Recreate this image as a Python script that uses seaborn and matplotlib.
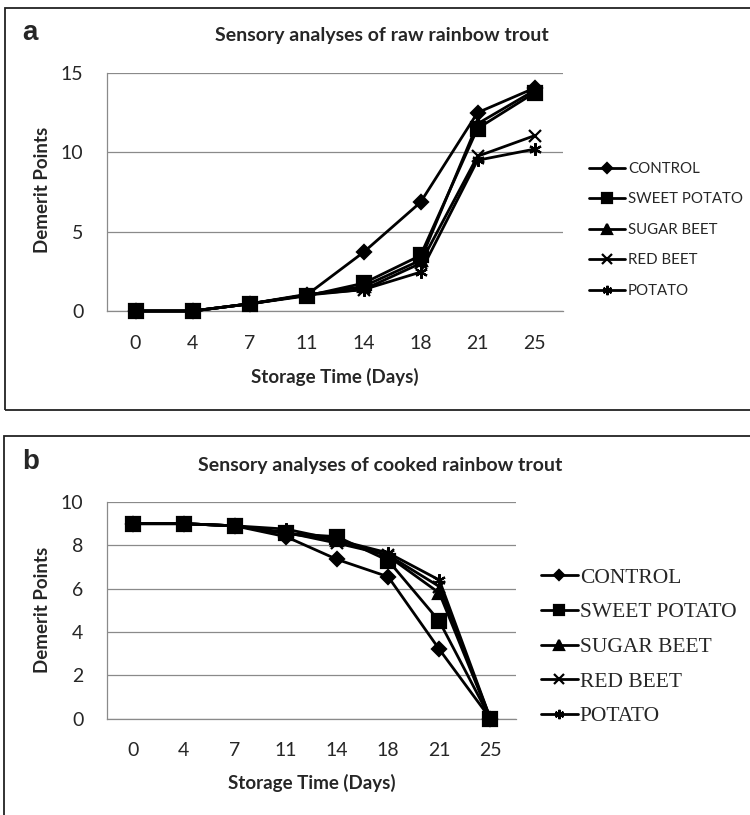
import numpy as np
import pandas as pd
import matplotlib
matplotlib.use("Agg")
import matplotlib.pyplot as plt
from matplotlib.patches import Rectangle
import seaborn as sns

# ---------------- data ----------------
days = ["0", "4", "7", "11", "14", "18", "21", "25"]
series_names = ["CONTROL", "SWEET POTATO", "SUGAR BEET", "RED BEET", "POTATO"]

raw_control = [0, 0, 0.45, 1.0, 3.7, 6.85, 12.5, 14.05]
raw_sweet_potato = [0, 0, 0.45, 0.95, 1.75, 3.5, 11.5, 13.75]
raw_sugar_beet = [0, 0, 0.45, 1.0, 1.55, 3.2, 11.8, 13.9]
raw_red_beet = [0, 0, 0.45, 1.0, 1.35, 3.0, 9.75, 11.05]
raw_potato = [0, 0, 0.45, 1.05, 1.35, 2.45, 9.5, 10.2]

cooked_control = [9.0, 9.0, 8.9, 8.4, 7.35, 6.55, 3.2, 0]
cooked_sweet_potato = [9.0, 9.0, 8.9, 8.55, 8.4, 7.3, 4.5, 0]
cooked_sugar_beet = [9.0, 9.0, 8.9, 8.55, 8.25, 7.5, 5.8, 0]
cooked_red_beet = [9.0, 9.0, 8.9, 8.6, 8.1, 7.55, 6.1, 0]
cooked_potato = [9.0, 9.0, 8.9, 8.75, 8.25, 7.65, 6.4, 0]

raw_values = [raw_control, raw_sweet_potato, raw_sugar_beet, raw_red_beet, raw_potato]
cooked_values = [cooked_control, cooked_sweet_potato, cooked_sugar_beet, cooked_red_beet, cooked_potato]

raw_yticks = [0, 5, 10, 15]
cooked_yticks = [0, 2, 4, 6, 8, 10]

# ---------------- style ----------------
sns.set_style("white")
plt.rcParams["font.family"] = ["Lato", "DejaVu Sans"]

W, H = 750, 815
fig = plt.figure(figsize=(W / 100, H / 100), dpi=100)

def fx(px):
    return px / W

def fy(py):
    return 1 - py / H

markers = ["D", "s", "^", "x", (6, 2, 0)]
msizes = [7, 9.5, 9, 9, 9]

def draw_panel(ax, values, yticks, ymax):
    pos = np.arange(len(days))
    for name, vals, mk, ms in zip(series_names, values, markers, msizes):
        df = pd.DataFrame({"x": pos, "y": vals})
        sns.lineplot(data=df, x="x", y="y", ax=ax, color="black", lw=2.0,
                     marker=mk, markersize=ms, markeredgewidth=1.6,
                     markeredgecolor="black", markerfacecolor="black",
                     label=name, sort=False, clip_on=False, zorder=3)
    ax.set_xlim(-0.5, len(days) - 0.5)
    ax.set_ylim(0, ymax)
    ax.set_xticks(pos)
    ax.set_xticklabels(days)
    ax.set_yticks(yticks)
    ax.tick_params(axis="both", length=0, labelsize=14, pad=17)
    ax.grid(axis="y", color="#8a8a8a", lw=0.9)
    ax.set_axisbelow(True)
    for s in ["top", "right"]:
        ax.spines[s].set_visible(False)
    for s in ["left", "bottom"]:
        ax.spines[s].set_color("#8a8a8a")
        ax.spines[s].set_linewidth(0.9)
        ax.spines[s].set_zorder(0.5)
    ax.set_xlabel("Storage Time (Days)", fontsize=13.5, fontweight="bold", va="center")
    ax.set_ylabel("Demerit Points", fontsize=13.5, fontweight="bold", va="center")
    return ax

# ---------- panel a ----------
ax_a = fig.add_axes([fx(107), fy(311), fx(563) - fx(107), fy(73) - fy(311)])
draw_panel(ax_a, raw_values, raw_yticks, 15)
ax_a.xaxis.set_label_coords(0.5, (311 - 377) / 238, transform=ax_a.transAxes)
ax_a.yaxis.set_label_coords((43 - 107) / 456, (311 - 190) / 238, transform=ax_a.transAxes)
leg_a = ax_a.legend(loc="center left", bbox_to_anchor=(fx(589), fy(230)),
                    bbox_transform=fig.transFigure, frameon=False,
                    prop={"family": ["Lato"], "size": 10.8},
                    handlelength=2.4, handletextpad=0.2, labelspacing=1.1,
                    borderpad=0, borderaxespad=0, markerscale=0.75)

# ---------- panel b ----------
ax_b = fig.add_axes([fx(107), fy(718.7), fx(516) - fx(107), fy(502) - fy(718.7)])
draw_panel(ax_b, cooked_values, cooked_yticks, 10)
ax_b.xaxis.set_label_coords(0.5, (718.7 - 783) / 216.7, transform=ax_b.transAxes)
ax_b.yaxis.set_label_coords((43 - 107) / 409, 0.5, transform=ax_b.transAxes)
leg_b = ax_b.legend(loc="center left", bbox_to_anchor=(fx(541), fy(647)),
                    bbox_transform=fig.transFigure, frameon=False,
                    prop={"family": ["Liberation Serif"], "size": 15.5},
                    handlelength=1.7, handletextpad=0.1, labelspacing=0.68,
                    borderpad=0, borderaxespad=0, markerscale=0.75)

# ---------- titles, panel letters, boxes ----------
fig.text(fx(382), fy(36), "Sensory analyses of raw rainbow trout", ha="center", va="center",
         fontsize=14, fontweight="bold")
fig.text(fx(380), fy(465), "Sensory analyses of cooked rainbow trout", ha="center", va="center",
         fontsize=14, fontweight="bold")
fig.text(fx(22), fy(33), "a", ha="left", va="center", fontsize=20, fontweight="bold",
         family=["Liberation Sans"])
fig.text(fx(22), fy(462), "b", ha="left", va="center", fontsize=20, fontweight="bold",
         family=["Liberation Sans"])

fig.patches.append(Rectangle((fx(5), fy(410)), 1.2, fy(8) - fy(410), transform=fig.transFigure,
                             fill=False, edgecolor="#222222", lw=1.3))
fig.patches.append(Rectangle((fx(4), -0.2), 1.2, fy(436) + 0.2, transform=fig.transFigure,
                             fill=False, edgecolor="#222222", lw=1.3))

fig.savefig("out.png", dpi=100, facecolor="white")
